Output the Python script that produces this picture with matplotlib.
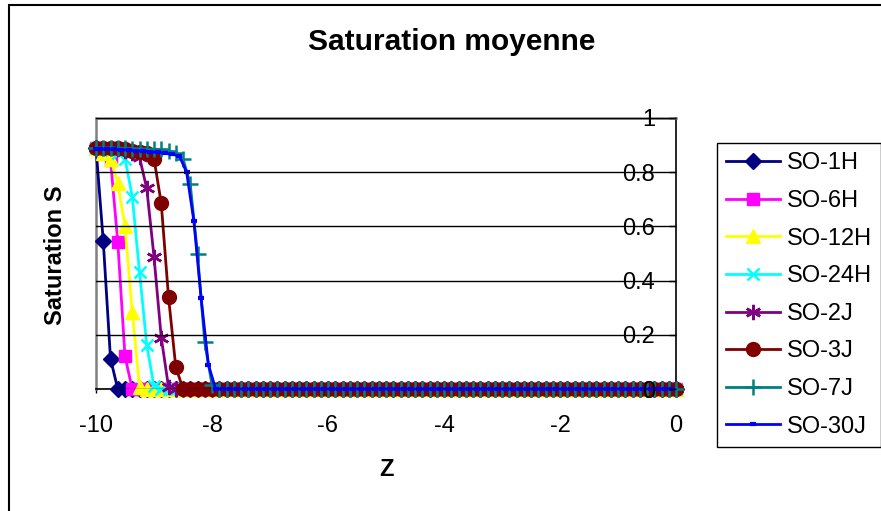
import numpy as np
import matplotlib.pyplot as plt
from matplotlib.patches import Rectangle

plt.rcParams['font.family'] = ['Liberation Sans', 'DejaVu Sans']

N = 81


def tail(vals, n=N):
    # profiles sit at zero after the front
    return vals + [0.0] * (n - len(vals))


# depth grid, step 0.125
z = np.linspace(-10, 0, N)
# the 30-day profile was sampled half a step off
z_30j = [-10.0] + list(np.linspace(-9.9375, -0.0625, 80))

s_1h = tail([0.89, 0.546, 0.112])
s_6h = tail([0.89, 0.87, 0.845, 0.544, 0.12])
s_12h = tail([0.89, 0.87, 0.85, 0.76, 0.60, 0.285, 0.008])
s_24h = tail([0.89, 0.888, 0.882, 0.872, 0.85, 0.71, 0.433, 0.162, 0.01])
s_2j = tail([0.89, 0.89, 0.888, 0.885, 0.88, 0.872, 0.855, 0.74, 0.488, 0.19, 0.008])
s_3j = tail([0.89, 0.89, 0.89, 0.888, 0.885, 0.88, 0.875, 0.87, 0.85, 0.685, 0.34, 0.082])
s_7j = tail([0.89, 0.89, 0.89, 0.889, 0.888, 0.887, 0.886, 0.885, 0.885, 0.884, 0.88,
             0.87, 0.85, 0.755, 0.497, 0.172, 0.015])
s_30j = tail([0.885, 0.885, 0.885, 0.884, 0.883, 0.882, 0.88, 0.878, 0.876, 0.873, 0.87,
              0.866, 0.86, 0.80, 0.62, 0.335, 0.09])

labels = ['SO-1H', 'SO-6H', 'SO-12H', 'SO-24H', 'SO-2J', 'SO-3J', 'SO-7J', 'SO-30J']
xticks = [-10, -8, -6, -4, -2, 0]
yticks = [0, 0.2, 0.4, 0.6, 0.8, 1]
ytick_labels = ['0', '0.2', '0.4', '0.6', '0.8', '1']

series = [
    (z, s_1h, '#000080', 'D', 8, 1),
    (z, s_6h, '#FF00FF', 's', 9, 1),
    (z, s_12h, '#FFFF00', '^', 10, 1),
    (z, s_24h, '#00FFFF', 'x', 9, 1.8),
    (z, s_2j, '#800080', (6, 2, 0), 11, 1.8),
    (z, s_3j, '#800000', 'o', 10, 1),
    (z, s_7j, '#008080', '+', 11, 1.8),
    (z_30j, s_30j, '#0000FF', '_', 5, 3),
]

fig = plt.figure(figsize=(8.81, 5.11), dpi=100)
ax = fig.add_axes([96 / 881, 1 - 389 / 511, 580 / 881, 271 / 511])

for (x, y, col, mk, ms, mew), lab in zip(series, labels):
    ax.plot(x, y, color=col, lw=2, marker=mk, ms=ms, mew=mew, mfc=col, mec=col,
            label=lab, clip_on=False, zorder=3)

ax.set_xlim(-10, 0)
ax.set_ylim(0, 1)
ax.set_xticks(xticks)
ax.set_xticklabels([str(t) for t in xticks])
ax.set_yticks(yticks)
ax.set_yticklabels(ytick_labels)

ax.yaxis.tick_right()
ax.yaxis.set_zorder(4)
ax.tick_params(axis='y', direction='in', length=5, width=1, pad=-15, labelsize=17)
for t in ax.get_yticklabels():
    t.set_ha('right')
ax.tick_params(axis='x', direction='out', length=3, width=1, pad=16, labelsize=17)
ax.grid(axis='y', color='black', lw=1)

for side in ('left', 'top'):
    ax.spines[side].set_color('#808080')
    ax.spines[side].set_linewidth(1.8)
for side in ('right', 'bottom'):
    ax.spines[side].set_color('black')
    ax.spines[side].set_linewidth(1.2)

fig.text(452 / 881, 1 - 42 / 511, 'Saturation moyenne', ha='center', va='center',
         fontsize=21.5, fontweight='bold')
fig.text(55 / 881, 1 - 255 / 511, 'Saturation S', rotation=90, ha='center', va='center',
         fontsize=17, fontweight='bold')
fig.text(386 / 881, 1 - 469 / 511, 'Z', ha='center', va='center',
         fontsize=17, fontweight='bold')

leg = ax.legend(loc='upper left', bbox_to_anchor=(717 / 881, 1 - 143 / 511),
                bbox_transform=fig.transFigure, fontsize=17, frameon=True, fancybox=False,
                edgecolor='black', framealpha=1, borderpad=0.4, labelspacing=0.66,
                handlelength=2.25, handletextpad=0.3, borderaxespad=0, numpoints=1)
leg.get_frame().set_linewidth(1.0)

fig.add_artist(Rectangle((9 / 881, -0.05), 1.0, 1.05 - 5 / 511, transform=fig.transFigure,
                         fill=False, ec='black', lw=1.5))

fig.savefig('out.png', dpi=100)
